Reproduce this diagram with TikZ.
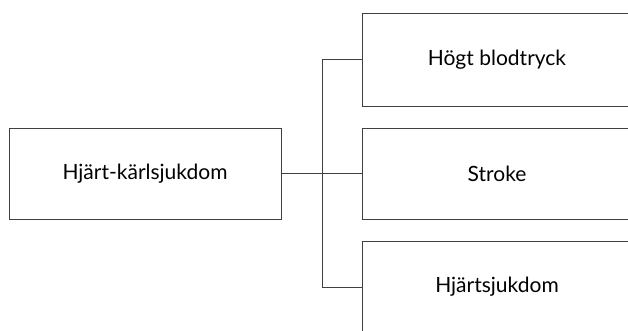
\documentclass[tikz,border=0pt]{standalone}
\usepackage{fontspec}
\setmainfont{Lato}
\usetikzlibrary{positioning}
\tikzset{
	ruta/.style={
		rectangle,
		draw=black!75, line width=0.8pt,
		minimum width=272pt,
		minimum height=91pt,
		inner sep=0pt, outer sep=0pt,
		font=\fontsize{21}{25}\selectfont},
	gren/.style={draw=black!75, line width=0.8pt},
}

\begin{document}
\begin{tikzpicture}[x=1pt,y=1pt,node distance=22pt]
\useasboundingbox (0,0) rectangle (628,-330);
\clip (0,0) rectangle (628,-330);
% huvudruta till vänster
\node[ruta] (sjuk) at (145,-173.5) {Hjärt-kärlsjukdom};
% underrutor till höger, delvis utanför kanten
\node[ruta, minimum width=270pt, minimum height=93pt] (hogt) at (497,-59.5) {Högt blodtryck};
\node[ruta, minimum width=270pt, below=of hogt] (stroke) {Stroke};
\node[ruta, minimum width=270pt, minimum height=92pt, below=of stroke] (hjarta) {Hjärtsjukdom};
\coordinate (gren) at (322,-173.5);
\draw[gren] (sjuk.east) -- (sjuk.east -| stroke.west);
\draw[gren] (hogt.west) -- (gren |- hogt.west) -- (gren |- hjarta.west) -- (hjarta.west);
\end{tikzpicture}
\end{document}
